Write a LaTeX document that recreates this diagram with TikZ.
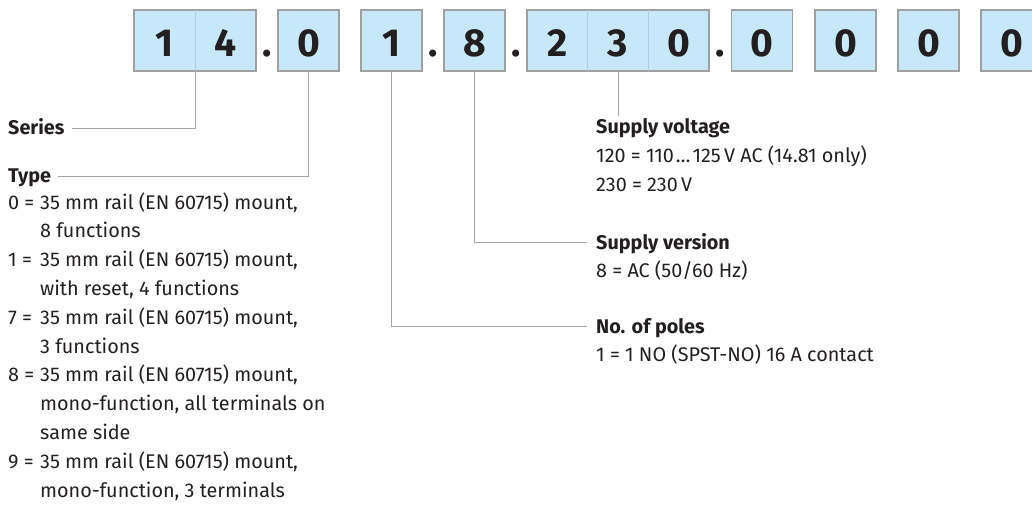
\documentclass[tikz,border=0pt]{standalone}
\usepackage{fontspec}
\setmainfont{Fira Sans}
\definecolor{boxfill}{HTML}{C6E8F9}
\definecolor{boxline}{HTML}{A0A0A0}
\definecolor{conncol}{HTML}{A3A3A3}
\definecolor{ink}{HTML}{231F20}
\newcommand{\bodyfont}{\fontsize{19.8}{28.8}\selectfont}
\newcommand{\digitfont}{\fontsize{39}{39}\selectfont\bfseries}
\newcommand{\ellip}{\hspace{2pt}…\hspace{2pt}}
\newcommand{\itemlbl}[1]{\makebox[32pt][l]{#1}}
\newcommand{\cont}{\hspace*{32pt}}
\begin{document}
\begin{tikzpicture}[x=1pt,y=-1pt,
  cell/.style={draw=boxline, fill=boxfill, line width=1.4pt, inner sep=0pt, minimum height=61pt},
  digit/.style={font=\digitfont, text=ink, inner sep=0pt, anchor=base},
  sep/.style={font=\digitfont, text=ink, inner sep=0pt, anchor=base},
  conn/.style={draw=conncol, line width=1pt},
  lbl/.style={font=\bodyfont, text=ink, inner sep=0pt, anchor=base west},
  head/.style={lbl, font=\bodyfont\bfseries},
  split/.style={draw=boxfill!88!black, line width=0.6pt}]
\useasboundingbox (0,0) rectangle (1032,505);
\clip (0,0) rectangle (1032,505);
% boxes
\node[cell, minimum width=122pt] (b14) at (195,40.5) {};
\node[cell, minimum width=61pt] (b0) at (308.5,40.5) {};
\node[cell, minimum width=61pt] (b1) at (391.5,40.5) {};
\node[cell, minimum width=61pt] (b8) at (474.5,40.5) {};
\node[cell, minimum width=182pt] (b230) at (618,40.5) {};
\node[cell, minimum width=61pt] (e1) at (762,40.5) {};
\node[cell, minimum width=61pt] (e2) at (845.5,40.5) {};
\node[cell, minimum width=61pt] (e3) at (928.5,40.5) {};
\node[cell, minimum width=61pt] (e4) at (1011.5,40.5) {};
\draw[split] ([yshift=-0.7pt]b14.north) -- ([yshift=0.7pt]b14.south);
\draw[split] ([xshift=-30.33pt,yshift=-0.7pt]b230.north) -- ([xshift=-30.33pt,yshift=0.7pt]b230.south);
\draw[split] ([xshift=30.33pt,yshift=-0.7pt]b230.north) -- ([xshift=30.33pt,yshift=0.7pt]b230.south);
% digits
\node[digit] (d1) at (165,57) {1};
\node[digit] (d2) at (226,57) {4};
\node[digit] (d3) at (308.5,57) {0};
\node[digit] (d4) at (391.5,57) {1};
\node[digit] (d5) at (474.5,57) {8};
\node[digit] (d6) at (557.5,57) {2};
\node[digit] (d7) at (618,57) {3};
\node[digit] (d8) at (678.5,57) {0};
\node[digit] (d9) at (762,57) {0};
\node[digit] (d10) at (845.5,57) {0};
\node[digit] (d11) at (928.5,57) {0};
\node[digit] (d12) at (1011.5,57) {0};
% dots
\node[sep] (p1) at (267,57) {.};
\node[sep] (p2) at (433,57) {.};
\node[sep] (p3) at (516,57) {.};
\node[sep] (p4) at (720.5,57) {.};
% left labels
\node[head] (series) at (8,135) {Series};
\node[head] (type) at (8,182.5) {Type};
\node[lbl] (typelist) at (8,209) {\begin{tabular}[t]{@{}l@{}}
\itemlbl{0 =}35 mm rail (EN 60715) mount,\\
\cont 8 functions\\
\itemlbl{1 =}35 mm rail (EN 60715) mount,\\
\cont with reset, 4 functions\\
\itemlbl{7 =}35 mm rail (EN 60715) mount,\\
\cont 3 functions\\
\itemlbl{8 =}35 mm rail (EN 60715) mount,\\
\cont mono-function, all terminals on\\
\cont same side\\
\itemlbl{9 =}35 mm rail (EN 60715) mount,\\
\cont mono-function, 3 terminals
\end{tabular}};
% right labels
\node[lbl] (volt) at (596,134) {\begin{tabular}[t]{@{}l@{}}
\textbf{Supply voltage}\\
120 = 110\ellip 125\,V AC (14.81 only)\\
230 = 230\,V
\end{tabular}};
\node[lbl] (ver) at (596,249) {\begin{tabular}[t]{@{}l@{}}
\textbf{Supply version}\\
8 = AC (50/60 Hz)
\end{tabular}};
\node[lbl] (poles) at (596,333) {\begin{tabular}[t]{@{}l@{}}
\textbf{No. of poles}\\
1 = 1 NO (SPST-NO) 16 A contact
\end{tabular}};
% connectors
\draw[conn] (b14.south) |- ([xshift=7pt,yshift=6.5pt]series.base east);
\draw[conn] (b0.south) |- ([xshift=7pt,yshift=6.5pt]type.base east);
\draw[conn] (b230.south) -- ([yshift=18pt]b230.south |- volt.base);
\draw[conn] (b8.south) |- ([xshift=-9pt,yshift=6.5pt]ver.base west);
\draw[conn] (b1.south) |- ([xshift=-9pt,yshift=6.5pt]poles.base west);
\end{tikzpicture}
\end{document}
